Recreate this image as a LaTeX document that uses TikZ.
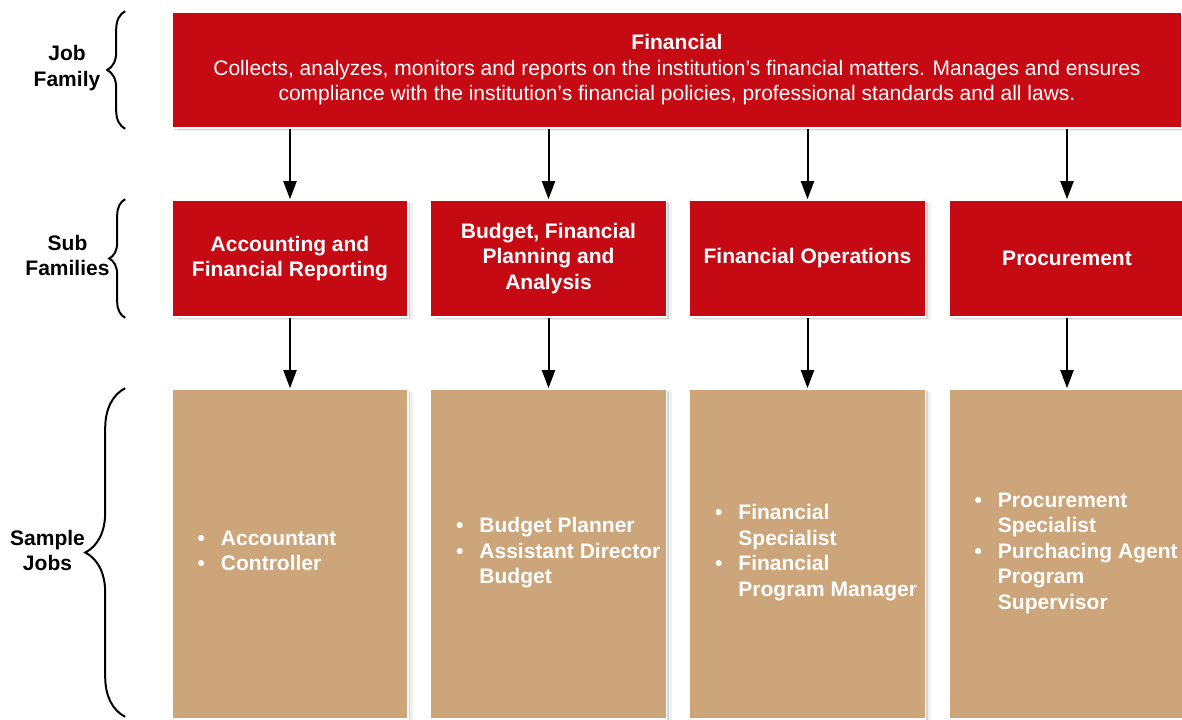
\documentclass[tikz,border=0pt]{standalone}
\usepackage{fontspec}
\setmainfont{Liberation Sans}
\usetikzlibrary{arrows.meta,shadows,decorations.pathreplacing}
\definecolor{famred}{RGB}{198,10,20}
\definecolor{jobtan}{RGB}{204,165,122}

\begin{document}
\begin{tikzpicture}[x=0.5pt,y=-0.5pt,
  box/.style={draw=white,line width=0.8pt,inner sep=0pt,
    drop shadow={shadow xshift=2.5pt,shadow yshift=-1.5pt,opacity=.12},
    drop shadow={shadow xshift=1.2pt,shadow yshift=-0.8pt,opacity=.25}},
  fam/.style={box,fill=famred,text=white,align=center,font=\fontsize{10.5}{12.75}\selectfont},
  sub/.style={fam,font=\bfseries\fontsize{10.5}{12.75}\selectfont,minimum width=118pt,minimum height=58.5pt},
  sample/.style={box,fill=jobtan,minimum width=118pt,minimum height=165pt},
  jobs/.style={text=white,anchor=west,inner sep=0pt,align=left,font=\bfseries\fontsize{10.5}{12.75}\selectfont},
  lbl/.style={align=center,font=\bfseries\fontsize{10.5}{12.75}\selectfont},
  arr/.style={line width=1pt,-{Triangle[length=9pt,width=6.5pt]}},
  brc/.style={decorate,line width=1pt}]
  \useasboundingbox (0,0) rectangle (1182,719);

  \node[fam,minimum width=505pt,minimum height=58pt] (fin) at (677,70)
    {\bfseries Financial\\\mdseries Collects, analyzes, monitors and reports on the institution’s financial matters. Manages and ensures\\compliance with the institution’s financial policies, professional standards and all laws.};

  \node[sub] (acc) at (290,258.5) {Accounting and\\Financial Reporting};
  \node[sub] (bud) at (548.5,258.5) {Budget, Financial\\Planning and\\Analysis};
  \node[sub] (ops) at (807.5,258.5) {Financial Operations};
  \node[sub] (pro) at (1067,258.5) {Procurement};

  \node[sample] (accj) at (290,554) {};
  \node[sample] (budj) at (548.5,554) {};
  \node[sample] (opsj) at (807.5,554) {};
  \node[sample] (proj) at (1067,554) {};

  \node[jobs] (accl) at ([xshift=13pt,yshift=0.5pt]accj.west)
    {\begin{tabular}{@{}l@{\hspace{8pt}}l@{}}\textbullet&Accountant\\\textbullet&Controller\end{tabular}};
  \node[jobs] (budl) at ([xshift=13pt,yshift=0.5pt]budj.west)
    {\begin{tabular}{@{}l@{\hspace{8pt}}l@{}}\textbullet&Budget Planner\\\textbullet&Assistant Director\\&Budget\end{tabular}};
  \node[jobs] (opsl) at ([xshift=13pt,yshift=0.5pt]opsj.west)
    {\begin{tabular}{@{}l@{\hspace{8pt}}l@{}}\textbullet&Financial\\&Specialist\\\textbullet&Financial\\&Program Manager\end{tabular}};
  \node[jobs] (prol) at ([xshift=13pt,yshift=0.5pt]proj.west)
    {\begin{tabular}{@{}l@{\hspace{8pt}}l@{}}\textbullet&Procurement\\&Specialist\\\textbullet&Purchacing Agent\\&Program\\&Supervisor\end{tabular}};

  \draw[arr] (acc |- fin.south) -- (acc);
  \draw[arr] (bud |- fin.south) -- (bud);
  \draw[arr] (ops |- fin.south) -- (ops);
  \draw[arr] (pro |- fin.south) -- (pro);
  \draw[arr] (acc) -- (accj);
  \draw[arr] (bud) -- (budj);
  \draw[arr] (ops) -- (opsj);
  \draw[arr] (pro) -- (proj);

  \draw[brc,decoration={brace,amplitude=9pt}] ([xshift=-23pt]fin.south west) -- ([xshift=-23pt]fin.north west);
  \draw[brc,decoration={brace,amplitude=8pt}] ([xshift=-23pt]acc.south west) -- ([xshift=-23pt]acc.north west);
  \draw[brc,decoration={brace,amplitude=20pt}] ([xshift=-23pt,yshift=1.5pt]accj.south west) -- ([xshift=-23pt]accj.north west);

  \node[lbl] (jf) at (67,68) {Job\\Family};
  \node[lbl] (sf) at (67.5,255.5) {Sub\\Families};
  \node[lbl] (sj) at (47.5,550.5) {Sample\\Jobs};
\end{tikzpicture}
\end{document}
